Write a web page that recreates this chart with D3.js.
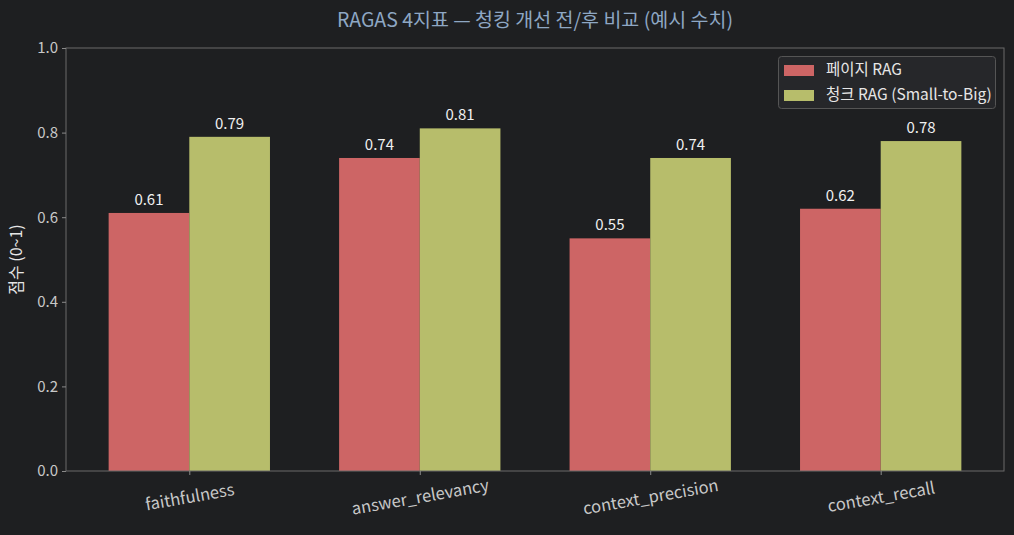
<!DOCTYPE html>
<html><head><meta charset="utf-8">
<script src="https://cdn.jsdelivr.net/npm/d3@7"></script>
<style>
body{margin:0;background:#1e1f21;}
svg{display:block;font-family:"Noto Sans CJK KR","Noto Sans",sans-serif;}
</style></head><body>
<svg id="c" width="1014" height="535"></svg>
<script>
const categories = ["faithfulness","answer_relevancy","context_precision","context_recall"];
const seriesNames = ["페이지 RAG","청크 RAG (Small-to-Big)"];
const pageRag = [0.61,0.74,0.55,0.62];
const chunkRag = [0.79,0.81,0.74,0.78];
const yTicks = [0.0,0.2,0.4,0.6,0.8,1.0];
const colors = ["#cd6565","#b7bd6b"];

const svg = d3.select("#c");
svg.append("rect").attr("width",1014).attr("height",535).attr("fill","#1e1f21");
const L=66,R=1004,T=48,B=471;
const barW=0.35;
const x = d3.scaleLinear().domain([-0.535,3.535]).range([L,R]);
const y = d3.scaleLinear().domain([0,1]).range([B,T]);

// bars
const series=[pageRag,chunkRag];
series.forEach((vals,si)=>{
  const off = si===0 ? -barW/2 : barW/2;
  const g=svg.append("g");
  g.selectAll("rect").data(vals).join("rect")
    .attr("x",(d,i)=>x(i+off-barW/2))
    .attr("width",(d,i)=>x(i+off+barW/2)-x(i+off-barW/2))
    .attr("y",d=>y(d)).attr("height",d=>B-y(d))
    .attr("fill",colors[si]);
  g.selectAll("text").data(vals).join("text")
    .attr("x",(d,i)=>x(i+off)).attr("y",d=>y(d)-8)
    .attr("text-anchor","middle").attr("fill","#f0f0f0").attr("font-size",15)
    .text(d=>d.toFixed(2));
});

// axes frame
svg.append("rect").attr("x",L).attr("y",T).attr("width",R-L).attr("height",B-T)
  .attr("fill","none").attr("stroke","#6a6a6a").attr("stroke-width",1);

// y axis
const ya = svg.append("g").attr("transform",`translate(${L},0)`)
  .call(d3.axisLeft(y).tickValues(yTicks).tickFormat(d3.format(".1f")).tickSize(4).tickPadding(4));
ya.select(".domain").remove();
ya.selectAll("line").attr("stroke","#8a8a8a");
ya.selectAll("text").attr("fill","#c8c8c8").attr("font-size",15).attr("font-family","Noto Sans CJK KR");

// x axis
const xa = svg.append("g").attr("transform",`translate(0,${B})`)
  .call(d3.axisBottom(x).tickValues(d3.range(categories.length)).tickFormat(i=>categories[i]).tickSize(4));
xa.select(".domain").remove();
xa.selectAll("line").attr("stroke","#8a8a8a");
xa.selectAll("text").attr("fill","#c8c8c8").attr("font-size",16.5).attr("font-family","Noto Sans CJK KR")
  .attr("text-anchor","middle")
  .attr("transform","translate(0,26) rotate(-10)").attr("y",0).attr("dy","0.35em");

// y label
svg.append("text").attr("transform",`translate(22,${(T+B)/2}) rotate(-90)`)
  .attr("text-anchor","middle").attr("fill","#e6e6e6").attr("font-size",16).text("점수 (0~1)");

// title
svg.append("text").attr("x",(L+R)/2).attr("y",27).attr("text-anchor","middle")
  .attr("fill","#8ea7c4").attr("font-size",19.5).text("RAGAS 4지표 — 청킹 개선 전/후 비교 (예시 수치)");

// legend
const lg=svg.append("g");
lg.append("rect").attr("x",778.5).attr("y",56.5).attr("width",217).attr("height",52).attr("rx",3)
  .attr("fill","#26272a").attr("stroke","#555").attr("stroke-width",1);
seriesNames.forEach((n,i)=>{
  const yy=70+i*25;
  lg.append("rect").attr("x",784).attr("y",yy-5).attr("width",30).attr("height",11).attr("fill",colors[i]);
  lg.append("text").attr("x",826).attr("y",yy).attr("dy","0.35em").attr("fill","#e6e6e6")
    .attr("font-size",15.5).text(n);
});
</script></body></html>
